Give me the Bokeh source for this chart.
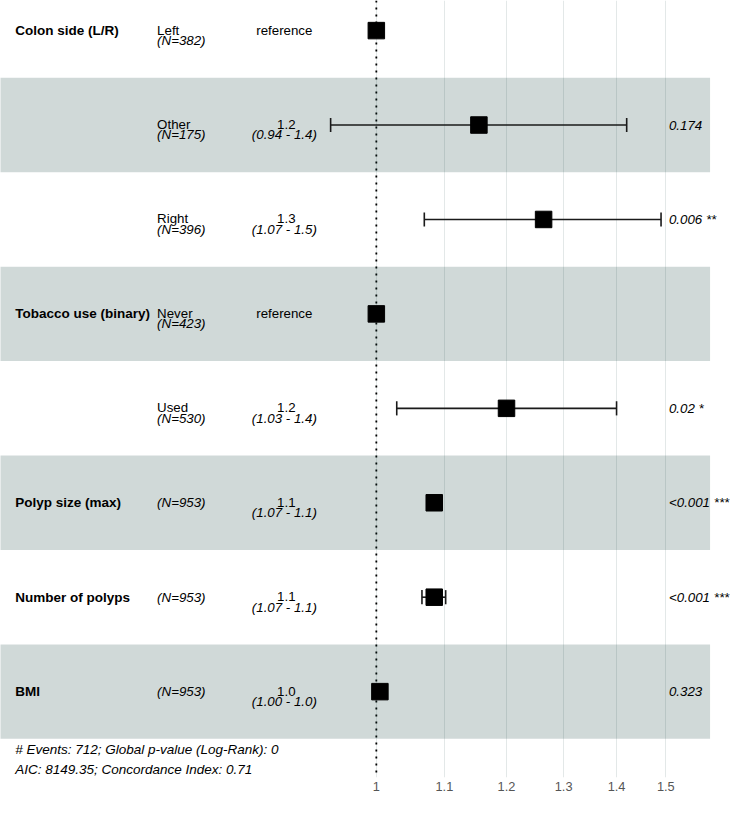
import math
from bokeh.plotting import figure
from bokeh.models import Range1d, FixedTicker, CustomJSTickFormatter, ColumnDataSource, Span, Label
from bokeh.core.properties import value
from bokeh.embed import file_html
from bokeh.resources import INLINE

# ---------------- data ----------------
var_labels = ["Colon side (L/R)", "", "", "Tobacco use (binary)", "", "Polyp size (max)", "Number of polyps", "BMI"]
level_labels = ["Left", "Other", "Right", "Never", "Used", "", "", ""]
n_labels = ["(N=382)", "(N=175)", "(N=396)", "(N=423)", "(N=530)", "(N=953)", "(N=953)", "(N=953)"]
hazard_ratio = [1.0, 1.1545, 1.264, 1.0, 1.20, 1.0845, 1.0845, 1.005]
ci_low = [None, 0.938, 1.0695, None, 1.029, 1.074, 1.066, 1.001]
ci_high = [None, 1.420, 1.490, None, 1.400, 1.096, 1.102, 1.009]
est_labels = ["reference", "1.2", "1.3", "reference", "1.2", "1.1", "1.1", "1.0"]
ci_labels = ["", "(0.94 - 1.4)", "(1.07 - 1.5)", "", "(1.03 - 1.4)", "(1.07 - 1.1)", "(1.07 - 1.1)", "(1.00 - 1.0)"]
p_labels = ["", "0.174", "0.006 **", "", "0.02 *", "<0.001 ***", "<0.001 ***", "0.323"]
footer_lines = ["# Events: 712; Global p-value (Log-Rank): 0", "AIC: 8149.35; Concordance Index: 0.71"]
x_ticks = [1, 1.1, 1.2, 1.3, 1.4, 1.5]

rows = list(range(1, len(var_labels) + 1))

# ---------------- layout (reference px scaled to the available area) ----------------
SX = 736 / 752
SY = 797 / 813
FRAME_W = 736
FRAME_H = 777
K = 729.5 * SX             # px per natural-log unit
X_ONE = 384 * SX           # x px of HR = 1
ROW_PX = 96.33 * SY        # px per row
ROW1_Y = 30.7 * SY         # y px of the first row centre
Y_TOP = 1 - ROW1_Y / ROW_PX
Y_BOT = Y_TOP + FRAME_H / ROW_PX

def fx(ref_px):
    return math.exp((ref_px * SX - X_ONE) / K)

def fy(ref_py):
    return Y_TOP + ref_py * SY / ROW_PX

x_start = math.exp(-X_ONE / K)
x_end = math.exp((FRAME_W - X_ONE) / K)

FONT = value("Liberation Sans")
FS = value("13.3px")

p = figure(frame_width=FRAME_W, frame_height=FRAME_H, x_axis_type="log",
           x_range=Range1d(x_start, x_end), y_range=Range1d(Y_BOT, Y_TOP),
           y_axis_location=None, output_backend="svg", toolbar_location=None,
           min_border=0, min_border_left=0, min_border_right=0, min_border_top=0,
           outline_line_color=None, background_fill_color="white",
           border_fill_color="white")

# grid
p.xgrid.ticker = FixedTicker(ticks=x_ticks)
p.xgrid.grid_line_color = "#e3e8e8"
p.xgrid.grid_line_width = 1
p.ygrid.grid_line_color = None

# axis
ax = p.xaxis[0]
ax.ticker = FixedTicker(ticks=x_ticks)
ax.formatter = CustomJSTickFormatter(code="return String(tick);")
ax.axis_line_color = None
ax.major_tick_line_color = None
ax.minor_tick_line_color = None
ax.major_tick_out = 0
ax.major_tick_in = 0
ax.major_label_standoff = 4
ax.major_label_text_font = "Liberation Sans"
ax.major_label_text_font_size = "12.8px"
ax.major_label_text_color = "#555555"

# reference line at HR = 1
p.add_layout(Span(location=1, dimension="height", level="underlay",
                  line_color="black", line_width=1.8, line_dash="2 5"))

# alternating bands
band_rows = [r for r in rows if r % 2 == 0]
p.quad(left=[x_start * 0.9] * len(band_rows), right=[fx(725)] * len(band_rows),
       top=[r - 0.5 for r in band_rows], bottom=[r + 0.5 for r in band_rows],
       fill_color="#14413c", fill_alpha=0.2, line_color=None)

# error bars
ci_idx = [i for i in range(len(rows)) if ci_low[i] is not None]
cap = 0.075
eb = ColumnDataSource(dict(
    lo=[ci_low[i] for i in ci_idx], hi=[ci_high[i] for i in ci_idx],
    y=[rows[i] for i in ci_idx],
    y0=[rows[i] - cap for i in ci_idx], y1=[rows[i] + cap for i in ci_idx]))
for a, b, c, d in [("lo", "hi", "y", "y"), ("lo", "lo", "y0", "y1"), ("hi", "hi", "y0", "y1")]:
    p.segment(x0=a, x1=b, y0=c, y1=d, source=eb, line_color="#1a1a1a", line_width=1.6)

# points
p.scatter(x=hazard_ratio, y=rows, marker="square", size=16.5,
          fill_color="black", line_color="black")

L1 = -0.5 * SY / ROW_PX   # baseline offset of first line
L2 = 10.0 * SY / ROW_PX   # baseline offset of second line

# variable names
vi = [i for i in range(len(rows)) if var_labels[i]]
p.text(x=[fx(15)] * len(vi), y=[rows[i] for i in vi], text=[var_labels[i] for i in vi],
       text_font=FONT, text_font_size=value("13.5px"), text_font_style="bold",
       text_align="left", text_baseline="middle", text_color="black")

# levels + N
li = [i for i in range(len(rows)) if level_labels[i]]
ni = [i for i in range(len(rows)) if not level_labels[i]]
p.text(x=[fx(160)] * len(li), y=[rows[i] + L1 for i in li], text=[level_labels[i] for i in li],
       text_font=FONT, text_font_size=FS, text_align="left", text_baseline="alphabetic",
       text_color="black")
p.text(x=[fx(160)] * len(li), y=[rows[i] + L2 for i in li], text=[n_labels[i] for i in li],
       text_font=FONT, text_font_size=FS, text_font_style="italic", text_align="left",
       text_baseline="alphabetic", text_color="black")
p.text(x=[fx(160)] * len(ni), y=[rows[i] for i in ni], text=[n_labels[i] for i in ni],
       text_font=FONT, text_font_size=FS, text_font_style="italic", text_align="left",
       text_baseline="middle", text_color="black")

# estimates
ri = [i for i in range(len(rows)) if not ci_labels[i]]
ei = [i for i in range(len(rows)) if ci_labels[i]]
p.text(x=[fx(290)] * len(ri), y=[rows[i] for i in ri], text=[est_labels[i] for i in ri],
       text_font=FONT, text_font_size=FS, text_align="center", text_baseline="middle",
       text_color="black")
p.text(x=[fx(292)] * len(ei), y=[rows[i] + L1 for i in ei], text=[est_labels[i] for i in ei],
       text_font=FONT, text_font_size=FS, text_align="center", text_baseline="alphabetic",
       text_color="black")
p.text(x=[fx(290)] * len(ei), y=[rows[i] + L2 for i in ei], text=[ci_labels[i] for i in ei],
       text_font=FONT, text_font_size=FS, text_font_style="italic", text_align="center",
       text_baseline="alphabetic", text_color="black")

# p-values
pi = [i for i in range(len(rows)) if p_labels[i]]
p.text(x=[fx(683)] * len(pi), y=[rows[i] for i in pi], text=[p_labels[i] for i in pi],
       text_font=FONT, text_font_size=FS, text_font_style="italic", text_align="left",
       text_baseline="middle", text_color="black")

# footer
for line, py in zip(footer_lines, [764, 784]):
    p.add_layout(Label(x=fx(15), y=fy(py), text=line, text_font="Liberation Sans",
                       text_font_size="13.5px", text_font_style="italic",
                       text_align="left", text_baseline="middle", text_color="black"))

open("out.html", "w").write(file_html(p, INLINE))
